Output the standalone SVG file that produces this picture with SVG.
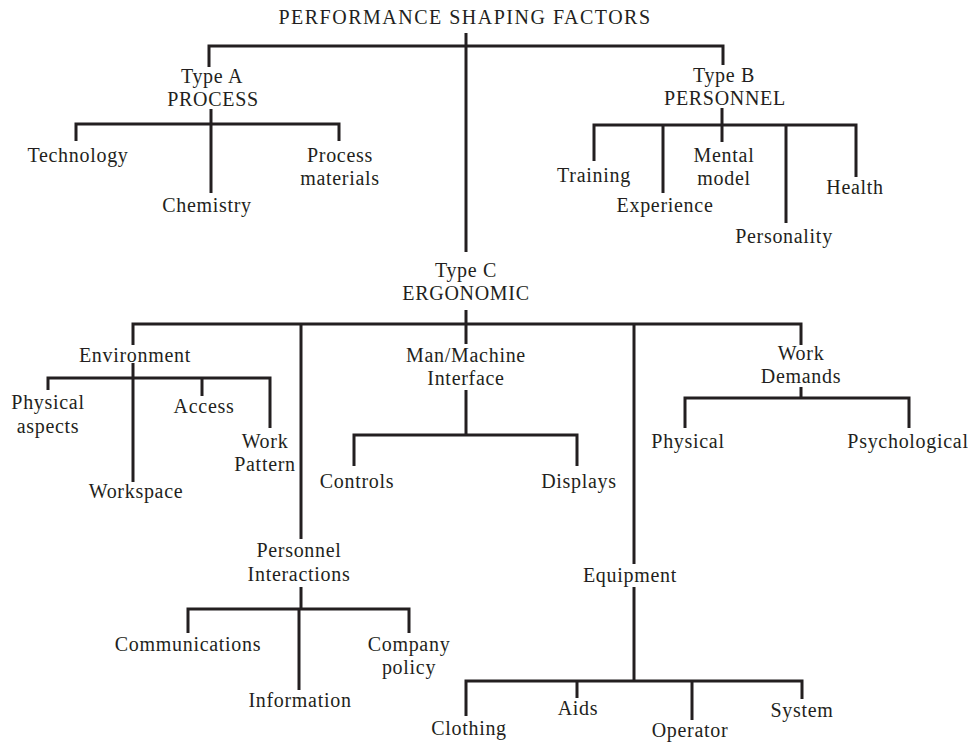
<svg xmlns="http://www.w3.org/2000/svg" width="968" height="742" viewBox="0 0 968 742">
<style>
text{font-family:"Liberation Serif","Times New Roman",serif;font-size:20px;fill:#231f20;text-anchor:middle;letter-spacing:0.7px}
.title{letter-spacing:1.5px}
#connectors path{fill:none;stroke:#231f20;stroke-width:3;stroke-linejoin:miter;stroke-linecap:butt}
</style>
<rect width="968" height="742" fill="#ffffff"/>
<g id="connectors">
<path d="M466,33 V252"/>
<path d="M209,67 V46 H723 V65"/>
<path d="M211,109 V193"/>
<path d="M76,141 V124 H339 V141"/>
<path d="M722,108 V142"/>
<path d="M594,161 V125 H856 V177"/>
<path d="M663,125 V193"/>
<path d="M786,125 V223"/>
<path d="M466,310 V344"/>
<path d="M133,345 V324 H801 V345"/>
<path d="M301,324 V539"/>
<path d="M634,324 V564"/>
<path d="M133,363 V482"/>
<path d="M48,390 V378 H270 V428"/>
<path d="M202,378 V396"/>
<path d="M466,390 V435"/>
<path d="M354,466 V435 H577 V466"/>
<path d="M801,387 V398"/>
<path d="M685,428 V398 H909 V428"/>
<path d="M301,587 V609"/>
<path d="M188,633 V609 H409 V633"/>
<path d="M299,609 V690"/>
<path d="M634,587 V681"/>
<path d="M466,716 V681 H802 V699"/>
<path d="M577,681 V698"/>
<path d="M692,681 V720"/>
</g>
<g id="root"><text class="title" x="465" y="24">PERFORMANCE SHAPING FACTORS</text></g>
<g id="typeA"><text x="212" y="83">Type A</text><text x="213" y="106">PROCESS</text></g>
<g id="technology"><text x="78" y="162">Technology</text></g>
<g id="chemistry"><text x="207" y="212">Chemistry</text></g>
<g id="process-materials"><text x="340" y="162">Process</text><text x="340" y="185">materials</text></g>
<g id="typeB"><text x="724" y="82">Type B</text><text x="725" y="105">PERSONNEL</text></g>
<g id="training"><text x="594" y="182">Training</text></g>
<g id="experience"><text x="665" y="212">Experience</text></g>
<g id="mental-model"><text x="724" y="162">Mental</text><text x="724" y="185">model</text></g>
<g id="personality"><text x="784" y="243">Personality</text></g>
<g id="health"><text x="855" y="194">Health</text></g>
<g id="typeC"><text x="466" y="277">Type C</text><text x="466" y="300">ERGONOMIC</text></g>
<g id="environment"><text x="135" y="362">Environment</text></g>
<g id="physical-aspects"><text x="48" y="409">Physical</text><text x="48" y="433">aspects</text></g>
<g id="access"><text x="204" y="413">Access</text></g>
<g id="work-pattern"><text x="265" y="448">Work</text><text x="265" y="471">Pattern</text></g>
<g id="workspace"><text x="136" y="498">Workspace</text></g>
<g id="man-machine"><text x="466" y="362">Man/Machine</text><text x="466" y="385">Interface</text></g>
<g id="controls"><text x="357" y="488">Controls</text></g>
<g id="displays"><text x="579" y="488">Displays</text></g>
<g id="work-demands"><text x="801" y="360">Work</text><text x="801" y="383">Demands</text></g>
<g id="physical"><text x="688" y="448">Physical</text></g>
<g id="psychological"><text x="908" y="448">Psychological</text></g>
<g id="personnel-interactions"><text x="299" y="557">Personnel</text><text x="299" y="581">Interactions</text></g>
<g id="communications"><text x="188" y="651">Communications</text></g>
<g id="information"><text x="300" y="707">Information</text></g>
<g id="company-policy"><text x="409" y="651">Company</text><text x="409" y="674">policy</text></g>
<g id="equipment"><text x="630" y="582">Equipment</text></g>
<g id="clothing"><text x="469" y="735">Clothing</text></g>
<g id="aids"><text x="578" y="715">Aids</text></g>
<g id="operator"><text x="690" y="737">Operator</text></g>
<g id="system"><text x="802" y="717">System</text></g>
</svg>
